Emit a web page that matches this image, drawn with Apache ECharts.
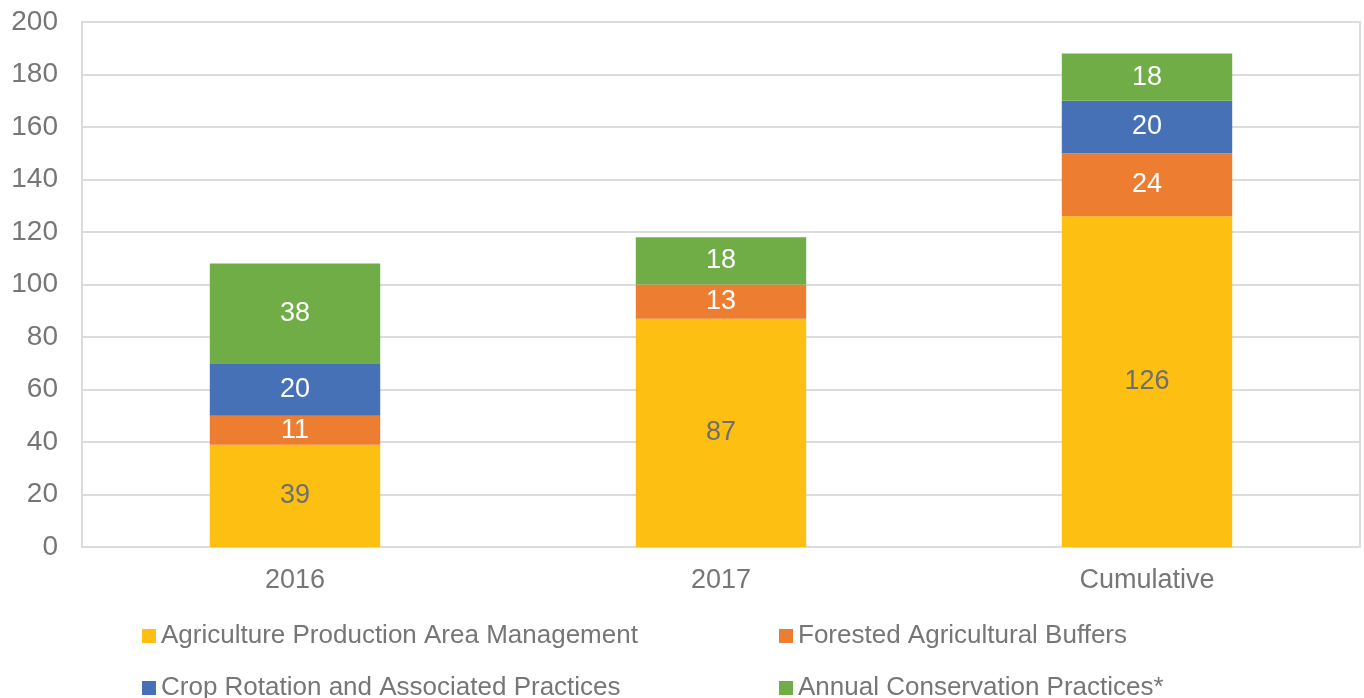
<!DOCTYPE html>
<html>
<head>
<meta charset="utf-8">
<script src="https://cdn.jsdelivr.net/npm/echarts@6/dist/echarts.min.js"></script>
<style>
  html, body { margin: 0; padding: 0; background: #fff; }
  #chart { width: 1364px; height: 698px; }
</style>
</head>
<body>
<div id="chart"></div>
<script>
// Categories and stacked series values
const categories = ['2016', '2017', 'Cumulative'];
const agricultureArea = [39, 87, 126];
const forestedBuffers = [11, 13, 24];
const cropRotation = [20, null, 20];
const annualConservation = [38, 18, 18];

const seriesNames = [
  'Agriculture Production Area Management',
  'Forested Agricultural Buffers',
  'Crop Rotation and Associated Practices',
  'Annual Conservation Practices*'
];
const seriesColors = ['#FCBF12', '#ED7D31', '#4771B7', '#70AD47'];
const labelColors = ['#6E6E6E', '#FFFFFF', '#FFFFFF', '#FFFFFF'];
const seriesData = [agricultureArea, forestedBuffers, cropRotation, annualConservation];

const FONT = '"Liberation Sans", Arial, sans-serif';
const TEXT_GREY = '#767676';

const chart = echarts.init(document.getElementById('chart'), null, { renderer: 'canvas' });

chart.setOption({
  animation: false,
  textStyle: { fontFamily: FONT },
  grid: {
    left: 82, right: 4, top: 22, bottom: 151,
    show: true, borderColor: '#DCDCDC', borderWidth: 2
  },
  legend: {
    left: 142, top: 610, width: 1280,
    padding: 0,
    orient: 'horizontal',
    itemWidth: 14, itemHeight: 14, itemGap: 0,
    icon: 'rect',
    textStyle: {
      fontFamily: FONT, fontSize: 26, color: TEXT_GREY,
      width: 618, lineHeight: 52
    },
    data: seriesNames
  },
  xAxis: {
    type: 'category',
    data: categories,
    axisLine: { show: true, lineStyle: { color: '#DCDCDC', width: 2 } },
    axisTick: { show: false },
    axisLabel: { fontSize: 27, color: TEXT_GREY, margin: 20, fontFamily: FONT }
  },
  yAxis: {
    type: 'value',
    min: 0, max: 200, interval: 20,
    axisLine: { show: false },
    axisTick: { show: false },
    splitLine: { lineStyle: { color: '#DCDCDC', width: 2 } },
    axisLabel: { fontSize: 28, color: TEXT_GREY, margin: 24, fontFamily: FONT }
  },
  series: seriesNames.map((name, i) => ({
    name: name,
    type: 'bar',
    stack: 'total',
    barWidth: '40%',
    data: seriesData[i],
    itemStyle: { color: seriesColors[i] },
    label: {
      show: true,
      position: 'inside',
      fontSize: 27,
      fontFamily: FONT,
      color: labelColors[i],
      formatter: p => (p.value == null ? '' : String(p.value))
    }
  }))
});
</script>
</body>
</html>
